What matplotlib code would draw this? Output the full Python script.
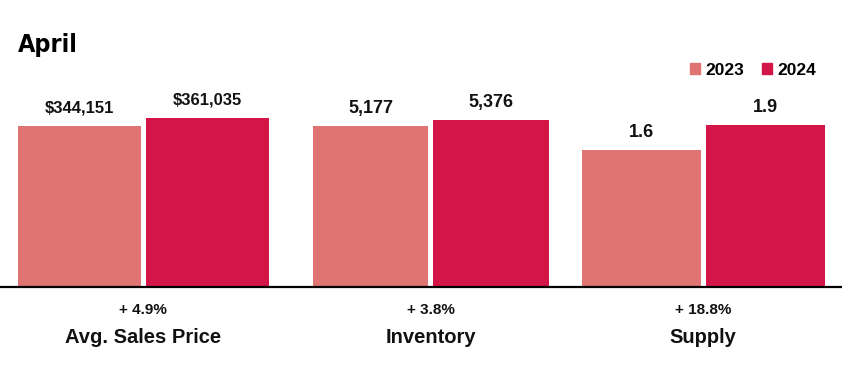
import matplotlib
matplotlib.use("Agg")
import matplotlib.pyplot as plt
from matplotlib.lines import Line2D
from matplotlib.patches import Patch

# data
categories = ['Avg. Sales Price', 'Inventory', 'Supply']
years = ['2023', '2024']
vals_2023 = [344151, 5177, 1.6]
vals_2024 = [361035, 5376, 1.9]
val_labels_2023 = ['$344,151', '5,177', '1.6']
val_labels_2024 = ['$361,035', '5,376', '1.9']
pct_labels = ['+ 4.9%', '+ 3.8%', '+ 18.8%']

c23 = '#E07472'
c24 = '#D31547'

W, H = 842, 374
fig = plt.figure(figsize=(W / 100, H / 100), dpi=100)
plt.rcParams['font.family'] = ['Liberation Sans', 'DejaVu Sans']

# pixel layout of each group (left, right), top bar height in px
groups_px = [(18, 268.5), (313, 548.5), (582, 824.5)]
top_h = [168, 166, 161]
lab_size = [12, 13, 13]
base_y = 286
ax_top = 60
ax_hpx = base_y - ax_top

bw = 0.96
for i, cat in enumerate(categories):
    l, r = groups_px[i]
    ax = fig.add_axes([l / W, (H - base_y) / H, (r - l) / W, ax_hpx / H])
    ax.bar(0, vals_2023[i], width=bw, color=c23)
    ax.bar(1, vals_2024[i], width=bw, color=c24)
    vmax = max(vals_2023[i], vals_2024[i])
    ax.set_ylim(0, vmax * ax_hpx / top_h[i])
    ax.set_xlim(-bw / 2, 1 + bw / 2)
    ax.axis('off')
    for x, v, s in [(0, vals_2023[i], val_labels_2023[i]),
                    (1, vals_2024[i], val_labels_2024[i])]:
        ax.annotate(s, (x, v), xytext=(0, 9.5), textcoords='offset points',
                    ha='center', va='baseline', fontsize=lab_size[i],
                    fontweight='bold', color='#111111')
    cx = (l + r) / 2 / W
    fig.text(cx, (H - 314) / H, pct_labels[i], ha='center', va='baseline',
             fontsize=11, fontweight='bold', color='#111111')
    fig.text(cx, (H - 343) / H, cat, ha='center', va='baseline',
             fontsize=14.5, fontweight='bold', color='#111111')

# baseline across the full width
fig.add_artist(Line2D([0, 1], [(H - base_y - 1) / H] * 2, color='black',
                      lw=1.6, transform=fig.transFigure))

fig.text(18 / W, (H - 52) / H, 'April', ha='left', va='baseline',
         fontsize=18, fontweight='bold', fontstretch='condensed',
         family=['DejaVu Sans Condensed', 'DejaVu Sans'])

handles = [Patch(color=c23, label=years[0]), Patch(color=c24, label=years[1])]
fig.legend(handles=handles, ncol=2, frameon=False, loc='upper right',
           bbox_to_anchor=(823 / W, (H - 56) / H), handlelength=0.6,
           handleheight=0.6, handletextpad=0.3, columnspacing=1.0,
           prop={'size': 12.5, 'weight': 'bold'}, borderaxespad=0)

fig.savefig('out.png', dpi=100)
